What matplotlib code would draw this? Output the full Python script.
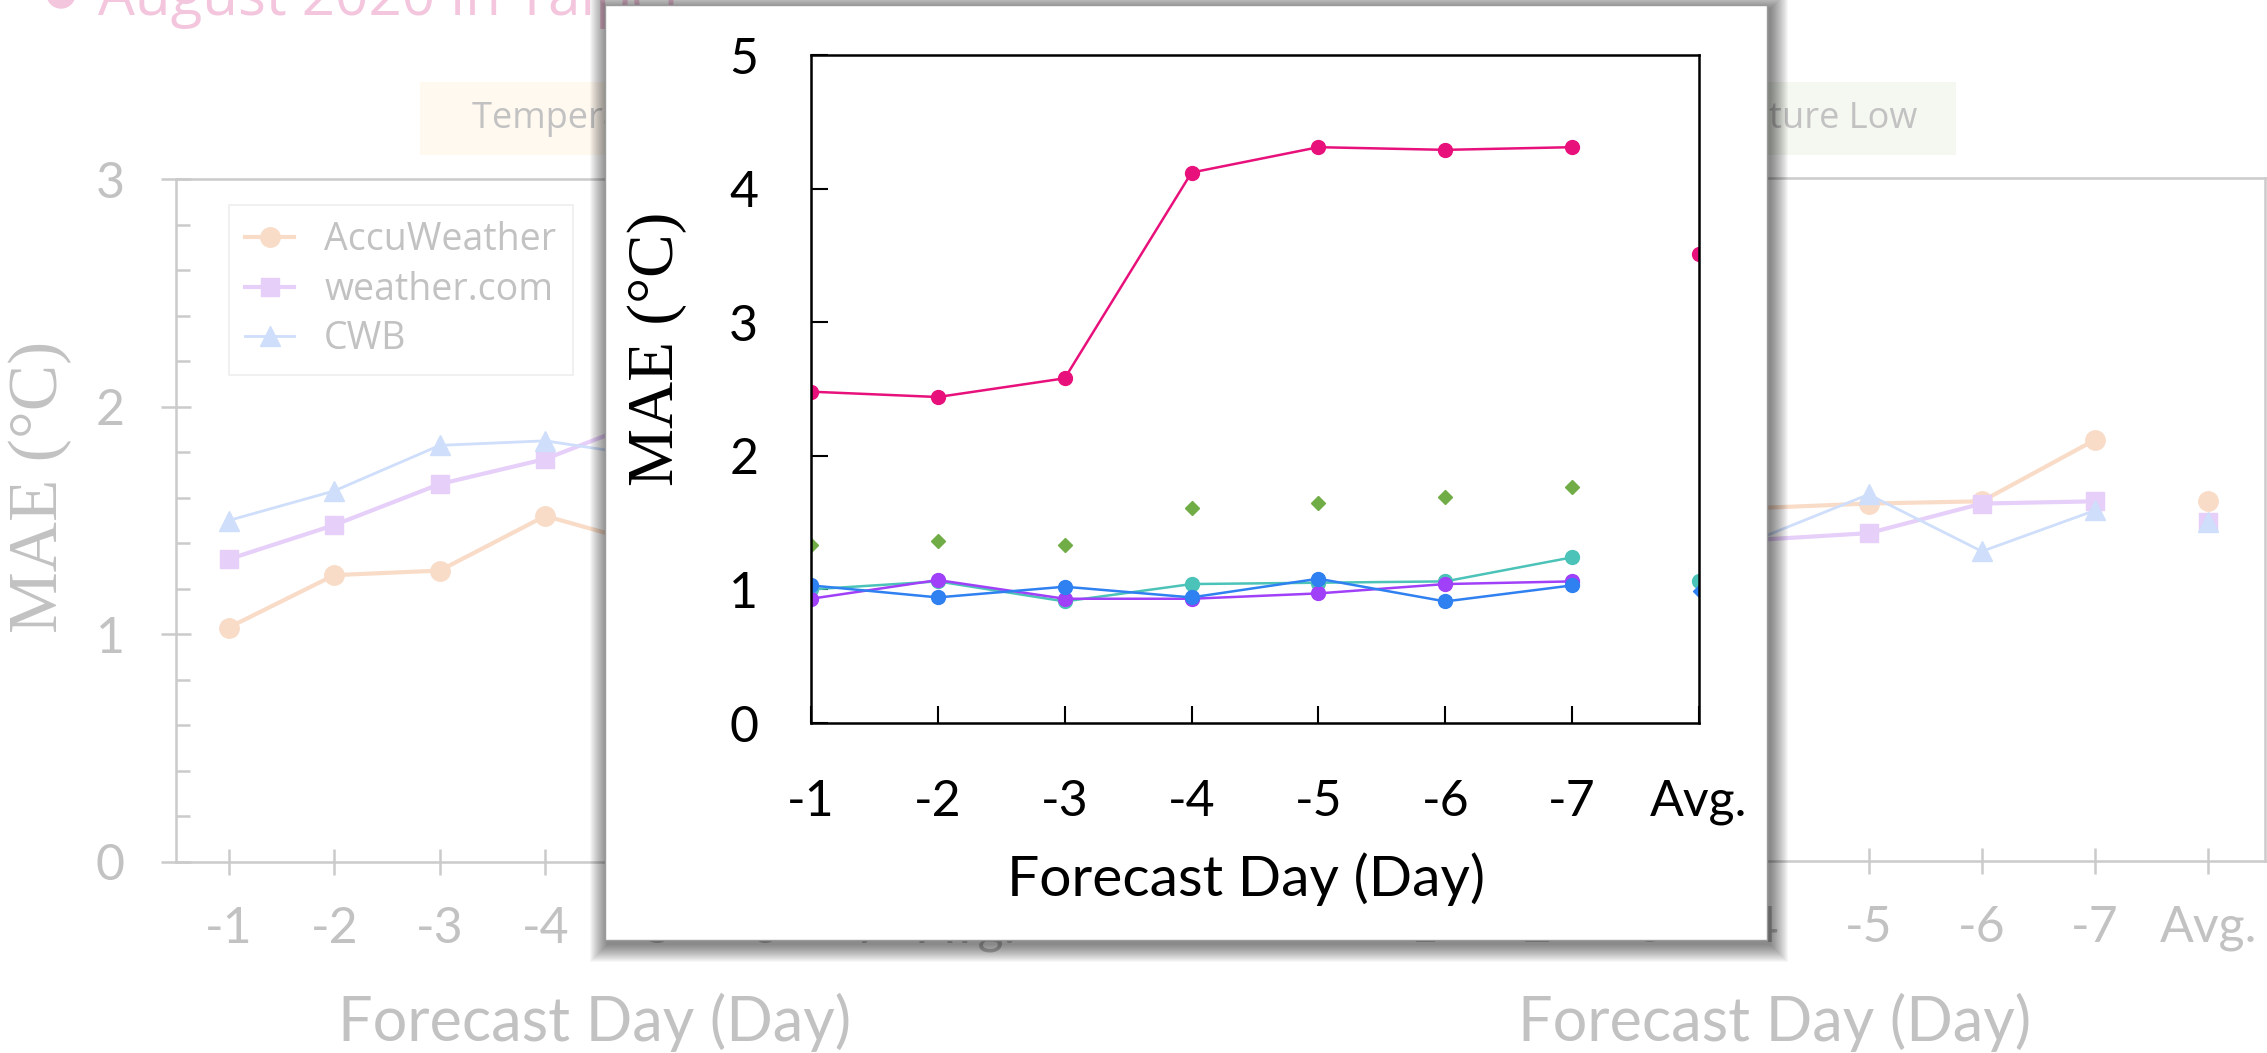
import matplotlib
matplotlib.use("Agg")
import matplotlib.pyplot as plt
from matplotlib.patches import Rectangle, Circle
from matplotlib.ticker import MultipleLocator

W, H = 2267, 1053

days = ['-1', '-2', '-3', '-4', '-5', '-6', '-7', 'Avg.']

# background slide: Temperature High (days -1..-7, then average)
high_accu = [1.03, 1.26, 1.28, 1.52, 1.39, 1.47, 1.55, 1.36]
high_wcom = [1.33, 1.48, 1.66, 1.77, 1.95, 1.92, 1.98, 1.73]
high_cwb = [1.50, 1.63, 1.83, 1.85, 1.78, 1.80, 1.86, 1.75]

# background slide: Temperature Low
low_accu = [1.45, 1.50, 1.52, 1.55, 1.57, 1.58, 1.85, 1.58]
low_wcom = [1.22, 1.30, 1.36, 1.41, 1.44, 1.57, 1.58, 1.49]
low_cwb = [1.30, 1.36, 1.40, 1.41, 1.61, 1.36, 1.54, 1.49]

# pop-up chart, days -1..-7 plus average
mae_pink = [2.48, 2.44, 2.58, 4.12, 4.31, 4.29, 4.31]
mae_green = [1.33, 1.36, 1.33, 1.61, 1.65, 1.69, 1.77]
mae_teal = [1.00, 1.06, 0.91, 1.04, 1.05, 1.06, 1.24]
mae_purple = [0.93, 1.07, 0.93, 0.93, 0.97, 1.04, 1.06]
mae_blue = [1.03, 0.94, 1.02, 0.94, 1.08, 0.91, 1.03]
avg_pink = 3.51
avg_teal = 1.06
avg_blue = 0.99

plt.rcParams['font.family'] = ['Lato', 'DejaVu Sans']

FADE_TXT = '#c2c2c2'
FADE_AX = '#cbcbcb'
C_ACCU = '#f9dcc8'
C_WCOM = '#e6cff9'
C_CWB = '#cfdefa'


def px_axes(fig, x0, y0, x1, y1, z):
    ax = fig.add_axes([x0 / W, 1 - y1 / H, (x1 - x0) / W, (y1 - y0) / H])
    ax.set_zorder(z)
    return ax


def faded_chart(ax, accu, wcom, cwb, legend=False):
    x = list(range(7))
    ax.plot(x, accu[:7], '-o', color=C_ACCU, lw=3, ms=14, label='AccuWeather')
    ax.plot(x, wcom[:7], '-s', color=C_WCOM, lw=3, ms=13, label='weather.com')
    ax.plot(x, cwb[:7], '-^', color=C_CWB, lw=2, ms=14, label='CWB')
    ax.plot(7, accu[7], 'o', color=C_ACCU, ms=14)
    ax.plot(7, wcom[7], 's', color=C_WCOM, ms=13)
    ax.plot(7, cwb[7], '^', color=C_CWB, ms=14)
    ax.set_xlim(-0.5, 7.5)
    ax.set_ylim(0, 3)
    ax.set_xticks(range(8))
    ax.set_xticklabels(days)
    ax.set_yticks([0, 1, 2, 3])
    ax.yaxis.set_minor_locator(MultipleLocator(0.2))
    for s in ax.spines.values():
        s.set_color(FADE_AX)
        s.set_linewidth(1.8)
    ax.tick_params(axis='x', direction='inout', length=19, width=1.8,
                   color=FADE_AX, labelcolor=FADE_TXT, labelsize=36, pad=22)
    ax.tick_params(axis='y', which='major', direction='inout', length=22, width=1.8,
                   color=FADE_AX, labelcolor=FADE_TXT, labelsize=36, pad=26)
    ax.tick_params(axis='y', which='minor', direction='in', length=10, width=1.8,
                   color=FADE_AX)
    ax.set_facecolor('none')
    if legend:
        lg = ax.legend(loc='upper left', bbox_to_anchor=(0.04, 0.99),
                       prop={'family': 'Open Sans', 'size': 27},
                       handlelength=1.3, labelspacing=0.3, borderpad=0.45,
                       handletextpad=0.8, fancybox=False, framealpha=1)
        lg.get_frame().set_edgecolor('#eeeeee')
        lg.get_frame().set_linewidth(1.2)
        for t in lg.get_texts():
            t.set_color(FADE_TXT)


fig = plt.figure(figsize=(W / 100, H / 100), dpi=100)

# slide background: title, chart headers, axis titles
bg = fig.add_axes([0, 0, 1, 1])
bg.set_xlim(0, W)
bg.set_ylim(H, 0)
bg.axis('off')
bg.add_patch(Circle((61, -6), 14, color='#f3c6de'))
bg.text(98, 15, 'August 2020 in Taipei', fontsize=42, family='Open Sans',
        color='#f3c6de', va='baseline', ha='left')
bg.add_patch(Rectangle((420, 82), 356, 73, color='#fff9f0', lw=0))
bg.text(472, 119, 'Temperature High', fontsize=26, family='Open Sans',
        color=FADE_TXT, va='center', ha='left')
bg.add_patch(Rectangle((1640, 82), 316, 73, color='#f5f8f1', lw=0))
bg.text(1917, 119, 'Temperature Low', fontsize=26, family='Open Sans',
        color=FADE_TXT, va='center', ha='right')
bg.text(595, 1022, 'Forecast Day (Day)', fontsize=44, color=FADE_TXT,
        ha='center', va='center')
bg.text(1775, 1022, 'Forecast Day (Day)', fontsize=44, color=FADE_TXT,
        ha='center', va='center')
bg.text(40, 487, 'MAE (°C)', fontsize=50, family='Liberation Serif',
        color=FADE_TXT, rotation=90, ha='center', va='center')

ax_high = px_axes(fig, 176, 179, 1020, 862, 1)
faded_chart(ax_high, high_accu, high_wcom, high_cwb, legend=True)
ax_low = px_axes(fig, 1359, 178, 2265, 861, 1)
faded_chart(ax_low, low_accu, low_wcom, low_cwb)

# pop-up panel with soft shadow
pop = fig.add_axes([0, 0, 1, 1])
pop.set_zorder(5)
pop.set_xlim(0, W)
pop.set_ylim(H, 0)
pop.axis('off')
px0, py0, pw, ph = 605, 5, 1162, 935
for k in range(18, 0, -1):
    pop.add_patch(Rectangle((px0 - k + 3, py0 - k + 4), pw + 2 * k, ph + 2 * k,
                            color='black', alpha=0.032, lw=0))
pop.add_patch(Rectangle((px0, py0), pw, ph, facecolor='white',
                        edgecolor='#9a9a9a', lw=1))

ax = px_axes(fig, 811, 55, 1699, 723, 6)
x = list(range(7))
ax.plot(x, mae_pink, '-o', color='#e8117c', lw=1.8, ms=10)
ax.plot(7, avg_pink, 'o', color='#e8117c', ms=10)
ax.plot(x, mae_green, 'D', color='#70ad47', ms=7, ls='none')
ax.plot(x, mae_teal, '-o', color='#4cc3b8', lw=1.8, ms=10)
ax.plot(7, avg_teal, 'o', color='#4cc3b8', ms=10)
ax.plot(x, mae_purple, '-o', color='#a040f8', lw=1.8, ms=10)
ax.plot(x, mae_blue, '-o', color='#2f80f0', lw=1.8, ms=10)
ax.plot(7, avg_blue, 'D', color='#2f80f0', ms=6)
ax.set_xlim(0, 7)
ax.set_ylim(0, 5)
ax.set_xticks(range(8))
ax.set_xticklabels(days)
ax.set_yticks(range(6))
for s in ax.spines.values():
    s.set_linewidth(1.8)
ax.tick_params(direction='in', length=12, width=1.5, labelsize=36)
ax.tick_params(axis='x', pad=40)
ax.tick_params(axis='y', pad=38)
ax.text(0.49, -0.2335, 'Forecast Day (Day)', transform=ax.transAxes,
        fontsize=41, ha='center', va='center')
ax.text(-0.173, 0.56, 'MAE (°C)', transform=ax.transAxes, fontsize=47,
        family='Liberation Serif', rotation=90, ha='center', va='center')

fig.savefig('out.png', dpi=100)
